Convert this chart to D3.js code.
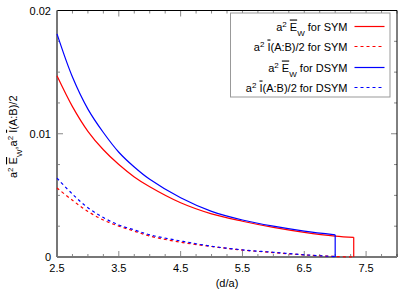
<!DOCTYPE html>
<html>
<head>
<meta charset="utf-8">
<script src="https://cdn.jsdelivr.net/npm/d3@7"></script>
<style>
  body { margin: 0; background: #fff; }
  text { font-family: "Liberation Sans", Arial, sans-serif; }
</style>
</head>
<body>
<div id="chart"></div>
<script>
// distances (d/a)
var distSym = [2.5, 2.75, 3, 3.25, 3.5, 3.75, 4, 4.5, 5, 5.5, 6, 6.5, 7, 7.3];
var distDsym = [2.5, 2.75, 3, 3.25, 3.5, 3.75, 4, 4.5, 5, 5.5, 6, 6.5, 7];

// series values
var ewSym = [0.0147, 0.0122, 0.0102, 0.0087, 0.0075, 0.0065, 0.0057, 0.0044, 0.0035, 0.0029, 0.0024, 0.0020, 0.0017, 0.0016];
var iSym = [0.0056, 0.0046, 0.0037, 0.0030, 0.0025, 0.0021, 0.0017, 0.0012, 0.00085, 0.00056, 0.00036, 0.00017, 0.00004, 0.0];
var ewDsym = [0.0181, 0.0146, 0.0120, 0.0101, 0.0085, 0.0073, 0.0063, 0.0048, 0.0037, 0.0030, 0.0025, 0.0021, 0.0018];
var iDsym = [0.0064, 0.0051, 0.0040, 0.0032, 0.0026, 0.0022, 0.0018, 0.0013, 0.00087, 0.00058, 0.00038, 0.00018, 0.00003];

var xTickLabels = [2.5, 3.5, 4.5, 5.5, 6.5, 7.5];
var yTickLabels = [0, 0.01, 0.02];

var margin = { top: 10.5, right: 18, bottom: 34, left: 57 },
  width = 415 - margin.left - margin.right,
  height = 291 - margin.top - margin.bottom;

var svg = d3.select("#chart")
  .append("svg")
  .attr("width", 415)
  .attr("height", 291)
  .append("g")
  .attr("transform", "translate(" + margin.left + "," + margin.top + ")");

var x = d3.scaleLinear().domain([2.5, 8]).range([0, width]);
var y = d3.scaleLinear().domain([0, 0.02]).range([height, 0]);

// inward ticks on all four sides (gnuplot style, mirrored)
var xMinor = d3.range(2.5, 8.001, 0.25);
var yMinor = d3.range(0, 0.02001, 0.0025);
var isMajorX = function (v) { return Math.abs((v - 2.5) - Math.round(v - 2.5)) < 1e-6; };
var isMajorY = function (v) { return Math.abs(v / 0.01 - Math.round(v / 0.01)) < 1e-6; };

xMinor.forEach(function (v) {
  var len = isMajorX(v) ? 6 : 3;
  svg.append("line").attr("x1", x(v)).attr("x2", x(v)).attr("y1", height).attr("y2", height - len)
    .attr("stroke", "#888").attr("stroke-width", 1);
  svg.append("line").attr("x1", x(v)).attr("x2", x(v)).attr("y1", 0).attr("y2", len)
    .attr("stroke", "#888").attr("stroke-width", 1);
});
yMinor.forEach(function (v) {
  var len = isMajorY(v) ? 6 : 3;
  svg.append("line").attr("x1", 0).attr("x2", len).attr("y1", y(v)).attr("y2", y(v))
    .attr("stroke", "#888").attr("stroke-width", 1);
  svg.append("line").attr("x1", width).attr("x2", width - len).attr("y1", y(v)).attr("y2", y(v))
    .attr("stroke", "#888").attr("stroke-width", 1);
});

// frame
svg.append("line").attr("x1", 0).attr("x2", width).attr("y1", 0).attr("y2", 0).attr("stroke", "#000");
svg.append("line").attr("x1", width).attr("x2", width).attr("y1", 0).attr("y2", height).attr("stroke", "#000");
svg.append("line").attr("x1", 0).attr("x2", 0).attr("y1", 0).attr("y2", height).attr("stroke", "#777").attr("stroke-width", 2);
svg.append("line").attr("x1", 0).attr("x2", width).attr("y1", height).attr("y2", height).attr("stroke", "#777").attr("stroke-width", 2);

// tick labels
svg.selectAll(".xl")
  .data(xTickLabels)
  .enter()
  .append("text")
  .attr("x", function (d) { return x(d) })
  .attr("y", height + 15)
  .attr("text-anchor", "middle")
  .attr("font-size", "11px")
  .text(function (d) { return d.toFixed(1) });

svg.selectAll(".yl")
  .data(yTickLabels)
  .enter()
  .append("text")
  .attr("x", -6)
  .attr("y", function (d) { return y(d) + 4 })
  .attr("text-anchor", "end")
  .attr("font-size", "11px")
  .text(function (d) { return d === 0 ? "0" : d.toFixed(2) });

// axis titles
svg.append("text")
  .attr("x", x(5.25))
  .attr("y", height + 30)
  .attr("text-anchor", "middle")
  .attr("font-size", "11px")
  .text("(d/a)");

// a^2 followed by an overlined symbol
function addA2(t, sym) {
  t.append("tspan").text("a");
  t.append("tspan").attr("baseline-shift", "super").attr("font-size", "8px").text("2");
  t.append("tspan").text(" ");
  t.append("tspan").style("text-decoration", "overline").text(sym);
}

var yt = svg.append("text")
  .attr("transform", "translate(-40," + (height / 2 + 3) + ") rotate(-90)")
  .attr("text-anchor", "middle")
  .attr("font-size", "11px");
addA2(yt, "E");
yt.append("tspan").attr("baseline-shift", "sub").attr("font-size", "8px").text("W");
yt.append("tspan").text(",");
addA2(yt, "I");
yt.append("tspan").text("(A:B)/2");

// curves
var series = [
  { dist: distSym, vals: ewSym, color: "#ff0000", dash: null, drop: true },
  { dist: distSym, vals: iSym, color: "#ff0000", dash: "3,3", drop: false },
  { dist: distDsym, vals: ewDsym, color: "#0000ff", dash: null, drop: true },
  { dist: distDsym, vals: iDsym, color: "#0000ff", dash: "3,3", drop: false }
];

var line = d3.line()
  .x(function (d) { return x(d[0]) })
  .y(function (d) { return y(d[1]) })
  .curve(d3.curveCatmullRom.alpha(0.5));

series.forEach(function (s) {
  var pts = s.dist.map(function (d, i) { return [d, s.vals[i]] });
  svg.append("path")
    .attr("d", line(pts))
    .attr("fill", "none")
    .attr("stroke", s.color)
    .attr("stroke-width", 1.2)
    .attr("stroke-dasharray", s.dash);
  if (s.drop) {
    var last = pts[pts.length - 1];
    svg.append("line")
      .attr("x1", x(last[0])).attr("x2", x(last[0]))
      .attr("y1", y(last[1])).attr("y2", y(0))
      .attr("stroke", s.color)
      .attr("stroke-width", 1.2);
  }
});

// legend
var lg = svg.append("g").attr("transform", "translate(" + (230.5 - margin.left) + "," + (13 - margin.top) + ")");
lg.append("rect")
  .attr("x", 0).attr("y", 0)
  .attr("width", 159.5).attr("height", 84)
  .attr("fill", "#fff")
  .attr("stroke", "#999")
  .attr("stroke-width", 1);

var legendItems = [
  { q: "E", who: "SYM", color: "#ff0000", dash: null },
  { q: "I", who: "SYM", color: "#ff0000", dash: "3,3" },
  { q: "E", who: "DSYM", color: "#0000ff", dash: null },
  { q: "I", who: "DSYM", color: "#0000ff", dash: "3,3" }
];

legendItems.forEach(function (it, i) {
  var cy = 13.5 + Math.round(i * 20.3);
  var t = lg.append("text")
    .attr("x", 117)
    .attr("y", cy + 4)
    .attr("text-anchor", "end")
    .attr("font-size", "11px");
  addA2(t, it.q);
  if (it.q === "E") {
    t.append("tspan").attr("baseline-shift", "sub").attr("font-size", "8px").text("W");
    t.append("tspan").text(" for " + it.who);
  } else {
    t.append("tspan").text("(A:B)/2 for " + it.who);
  }
  lg.append("line")
    .attr("x1", 124).attr("x2", 154)
    .attr("y1", cy).attr("y2", cy)
    .attr("stroke", it.color)
    .attr("stroke-width", 1.2)
    .attr("stroke-dasharray", it.dash);
});
</script>
</body>
</html>
